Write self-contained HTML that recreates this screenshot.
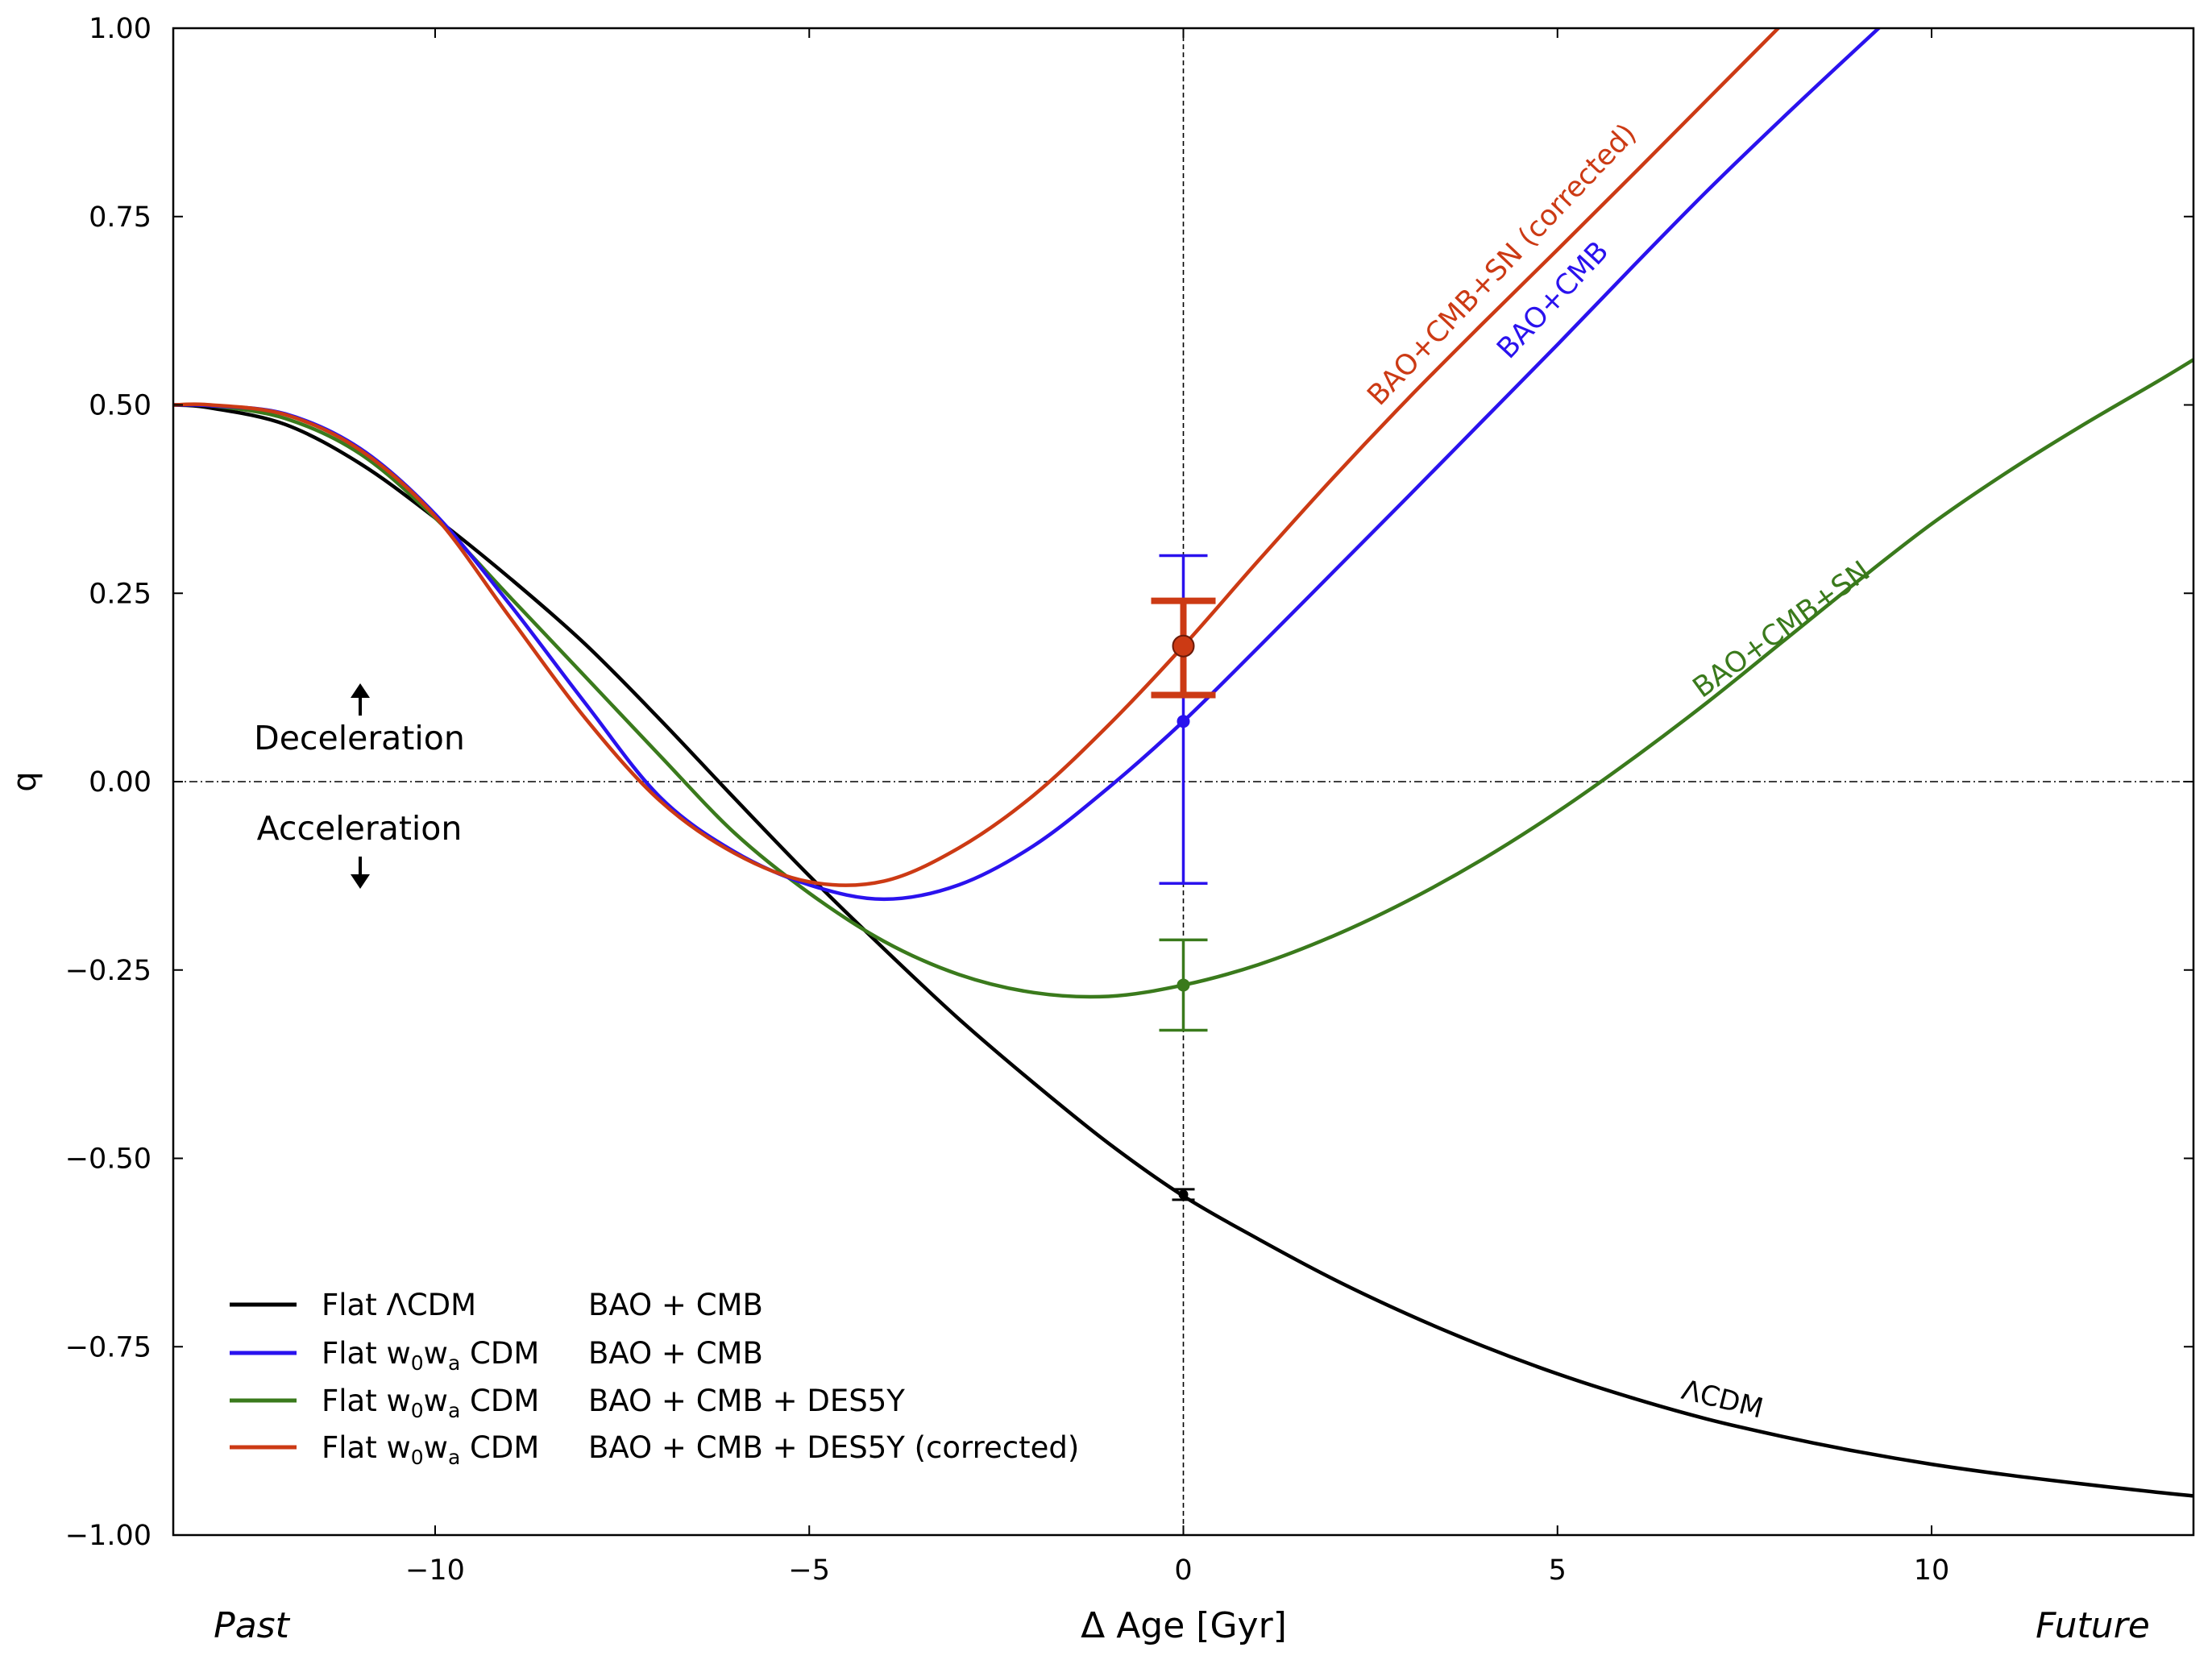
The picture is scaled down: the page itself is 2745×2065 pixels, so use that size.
<!DOCTYPE html>
<html><head><meta charset="utf-8">
<style>
html,body{margin:0;padding:0;background:#fff;}
svg{display:block;font-family:"DejaVu Sans","Liberation Sans",sans-serif;}
</style></head>
<body>
<svg id="chart" width="2745" height="2065" viewBox="0 0 2745 2065" xmlns="http://www.w3.org/2000/svg"></svg>
<script>
// ---- data ----
const xTicks = [-10, -5, 0, 5, 10];
const yTicks = [1.00, 0.75, 0.50, 0.25, 0.00, -0.25, -0.50, -0.75, -1.00];
const lcdmX = [-13.5, -13, -12, -11, -10, -9, -8, -7, -6, -5, -4, -3, -2, -1, 0, 1, 2, 3, 4, 5, 6, 7, 8, 9, 10, 11, 12, 13, 13.5];
const lcdmQ = [0.5, 0.496, 0.474, 0.422, 0.35, 0.27, 0.183, 0.083, -0.022, -0.125, -0.222, -0.315, -0.4, -0.48, -0.55, -0.607, -0.66, -0.707, -0.749, -0.786, -0.818, -0.846, -0.869, -0.889, -0.906, -0.92, -0.932, -0.943, -0.948];
const blueX = [-13.5, -13, -12, -11, -10, -9, -8, -7, -6, -5, -4, -3, -2, -1, 0, 1, 2, 3, 4, 5, 6, 7, 8, 9, 10];
const blueQ = [0.5, 0.499, 0.488, 0.442, 0.355, 0.235, 0.105, -0.02, -0.093, -0.137, -0.156, -0.137, -0.085, -0.008, 0.08, 0.178, 0.278, 0.378, 0.479, 0.58, 0.683, 0.784, 0.88, 0.973, 1.065];
const greenX = [-13.5, -13, -12, -11, -10, -9, -8, -7, -6, -5, -4, -3, -2, -1, 0, 1, 2, 3, 4, 5, 6, 7, 8, 9, 10, 11, 12, 13, 13.5];
const greenQ = [0.5, 0.499, 0.482, 0.435, 0.35, 0.245, 0.14, 0.035, -0.068, -0.148, -0.212, -0.256, -0.28, -0.285, -0.27, -0.243, -0.205, -0.158, -0.103, -0.04, 0.03, 0.105, 0.185, 0.265, 0.342, 0.41, 0.472, 0.53, 0.56];
const redX = [-13.5, -13, -12, -11, -10, -9, -8, -7, -6, -5, -4, -3, -2, -1, 0, 1, 2, 3, 4, 5, 6, 7, 8, 9];
const redQ = [0.5, 0.5, 0.487, 0.44, 0.352, 0.218, 0.085, -0.025, -0.095, -0.133, -0.132, -0.088, -0.018, 0.075, 0.18, 0.293, 0.403, 0.508, 0.608, 0.706, 0.805, 0.905, 1.005, 1.105];
const errX = [0, 0, 0, 0];
const errQ = [-0.548, 0.08, -0.27, 0.18];
const errLo = [-0.555, -0.135, -0.33, 0.115];
const errHi = [-0.541, 0.30, -0.21, 0.24];

const L=215,R=2722,T=35,B=1905,XMIN=-13.5,XMAX=13.5,YMIN=-1,YMAX=1;
const sx=x=>L+(x-XMIN)/(XMAX-XMIN)*(R-L);
const sy=y=>B-(y-YMIN)/(YMAX-YMIN)*(B-T);
const svg=document.getElementById('chart');
const NS='http://www.w3.org/2000/svg';
function mk(tag,attrs,parent){const e=document.createElementNS(NS,tag);for(const k in attrs)e.setAttribute(k,attrs[k]);(parent||svg).appendChild(e);return e;}
function smooth(xs,ys){
  const p=xs.map((x,i)=>[sx(x),sy(ys[i])]);
  let d='M'+p[0][0]+','+p[0][1];
  for(let i=0;i<p.length-1;i++){
    const p0=p[i-1]||p[i],p1=p[i],p2=p[i+1],p3=p[i+2]||p2;
    const c1=[p1[0]+(p2[0]-p0[0])/6,p1[1]+(p2[1]-p0[1])/6];
    const c2=[p2[0]-(p3[0]-p1[0])/6,p2[1]-(p3[1]-p1[1])/6];
    d+=' C'+c1[0]+','+c1[1]+' '+c2[0]+','+c2[1]+' '+p2[0]+','+p2[1];
  }
  return d;
}
const clip=mk('clipPath',{id:'pc'},mk('defs',{}));
mk('rect',{x:L,y:T,width:R-L,height:B-T},clip);

let e;
e=mk('line',{x1:sx(0),x2:sx(0),y1:T,y2:B,stroke:'#000','stroke-width':1.6,'stroke-dasharray':'6,4'});


e=mk('line',{x1:L,x2:R,y1:sy(0),y2:sy(0),stroke:'#000','stroke-width':1.6,'stroke-dasharray':'10,4,2,4'});



const series=[
 {x:lcdmX,q:lcdmQ,c:'#000000',n:'lcdm-curve'},
 {x:greenX,q:greenQ,c:'#3a7a1c',n:'des5y-curve'},
 {x:blueX,q:blueQ,c:'#2a12ee',n:'bao-cmb-curve'},
 {x:redX,q:redQ,c:'#cc3a14',n:'des5y-corrected-curve'}
];
const g=mk('g',{'clip-path':'url(#pc)'});
series.forEach(s=>{
  const p=mk('path',{d:smooth(s.x,s.q),fill:'none',stroke:s.c,'stroke-width':4.5},g);
  
  
});

const errC=['#000000','#2a12ee','#3a7a1c','#cc3a14'];
const errW=[3,3.5,3.5,8];
const capW=[14,30,30,40];
const dotR=[6,8,8,13];
errX.forEach((x,i)=>{
  const eg=mk('g',{});
  
  
  const X=sx(x);
  mk('line',{x1:X,x2:X,y1:sy(errLo[i]),y2:sy(errHi[i]),stroke:errC[i],'stroke-width':errW[i]},eg);
  [errLo[i],errHi[i]].forEach(v=>mk('line',{x1:X-capW[i],x2:X+capW[i],y1:sy(v),y2:sy(v),stroke:errC[i],'stroke-width':errW[i]},eg));
  mk('circle',{cx:X,cy:sy(errQ[i]),r:dotR[i],fill:errC[i],stroke:i==3?'#6a1a08':'none','stroke-width':2},eg);
});

e=mk('rect',{x:L,y:T,width:R-L,height:B-T,fill:'none',stroke:'#000','stroke-width':2.5});



xTicks.forEach(v=>{
  const X=sx(v);
  mk('line',{x1:X,x2:X,y1:B,y2:B-12,stroke:'#000','stroke-width':2});
  mk('line',{x1:X,x2:X,y1:T,y2:T+12,stroke:'#000','stroke-width':2});
  const t=mk('text',{x:X,y:1960,'font-size':35,'text-anchor':'middle',fill:'#000'});
  t.textContent=v<0?'\u2212'+Math.abs(v):String(v);
  
  
});
yTicks.forEach(v=>{
  const Y=sy(v);
  mk('line',{x1:L,x2:L+12,y1:Y,y2:Y,stroke:'#000','stroke-width':2});
  mk('line',{x1:R,x2:R-12,y1:Y,y2:Y,stroke:'#000','stroke-width':2});
  const t=mk('text',{x:188,y:Y+12,'font-size':35,'text-anchor':'end',fill:'#000'});
  t.textContent=(v<0?'\u2212':'')+Math.abs(v).toFixed(2);
  
  
});
</script>
<script>
(function(){
const svg=document.getElementById('chart');const NS='http://www.w3.org/2000/svg';
function txt(s,attrs,name){const t=document.createElementNS(NS,'text');for(const k in attrs)t.setAttribute(k,attrs[k]);t.textContent=s;


svg.appendChild(t);return t;}
txt('q',{x:0,y:0,'font-size':40,'text-anchor':'middle',transform:'translate(44,970) rotate(-90)'},'y-axis-title');
txt('\u0394 Age [Gyr]',{x:1469,y:2032,'font-size':44,'text-anchor':'middle'},'x-axis-title');
txt('Past',{x:312,y:2032,'font-size':44,'text-anchor':'middle','font-style':'italic'},'past-label');
txt('Future',{x:2597,y:2032,'font-size':44,'text-anchor':'middle','font-style':'italic'},'future-label');
txt('Deceleration',{x:446,y:930,'font-size':41,'text-anchor':'middle'},'deceleration-label');
txt('Acceleration',{x:446,y:1042,'font-size':41,'text-anchor':'middle'},'acceleration-label');
function arrow(y1,y2,name){const g=document.createElementNS(NS,'g');


const dir=Math.sign(y2-y1);
g.innerHTML='<line x1="447" x2="447" y1="'+y1+'" y2="'+(y2-dir*14)+'" stroke="#000" stroke-width="4"/><polygon points="435,'+(y2-dir*18)+' 459,'+(y2-dir*18)+' 447,'+y2+'" fill="#000"/>';
svg.appendChild(g);}
arrow(888,848,'up-arrow');arrow(1063,1103,'down-arrow');
txt('BAO+CMB+SN (corrected)',{x:0,y:0,'font-size':35,fill:'#cc3a14',transform:'translate(1712,505) rotate(-46.5)'},'corrected-curve-label');
txt('BAO+CMB',{x:0,y:0,'font-size':35,fill:'#2a12ee',transform:'translate(1873,447) rotate(-47)'},'bao-cmb-curve-label');
txt('BAO+CMB+SN',{x:0,y:0,'font-size':35,fill:'#3a7a1c',transform:'translate(2112,867) rotate(-36)'},'des5y-curve-label');
txt('\u039BCDM',{x:0,y:0,'font-size':34,fill:'#000',transform:'translate(2085,1735) rotate(14)'},'lcdm-curve-label');
const leg=[['#000000','Flat \u039BCDM',null,'BAO + CMB'],['#2a12ee','Flat w','CDM','BAO + CMB'],['#3a7a1c','Flat w','CDM','BAO + CMB + DES5Y'],['#cc3a14','Flat w','CDM','BAO + CMB + DES5Y (corrected)']];
const ys=[1619,1679,1738,1796];
const lg=document.createElementNS(NS,'g');


svg.appendChild(lg);
leg.forEach((r,i)=>{
 const y=ys[i];
 let h='<line x1="285" x2="368" y1="'+y+'" y2="'+y+'" stroke="'+r[0]+'" stroke-width="5"/>';
 if(r[2]===null) h+='<text x="399" y="'+(y+13)+'" font-size="37">'+r[1]+'</text>';
 else h+='<text x="399" y="'+(y+13)+'" font-size="37">'+r[1]+'<tspan font-size="25" dy="8">0</tspan><tspan dy="-8">w</tspan><tspan font-size="25" dy="8">a</tspan><tspan dy="-8"> '+r[2]+'</tspan></text>';
 h+='<text x="730" y="'+(y+13)+'" font-size="37">'+r[3]+'</text>';
 const eg=document.createElementNS(NS,'g');
 
 
 eg.innerHTML=h;lg.appendChild(eg);
});
})();
</script>
</body></html>
